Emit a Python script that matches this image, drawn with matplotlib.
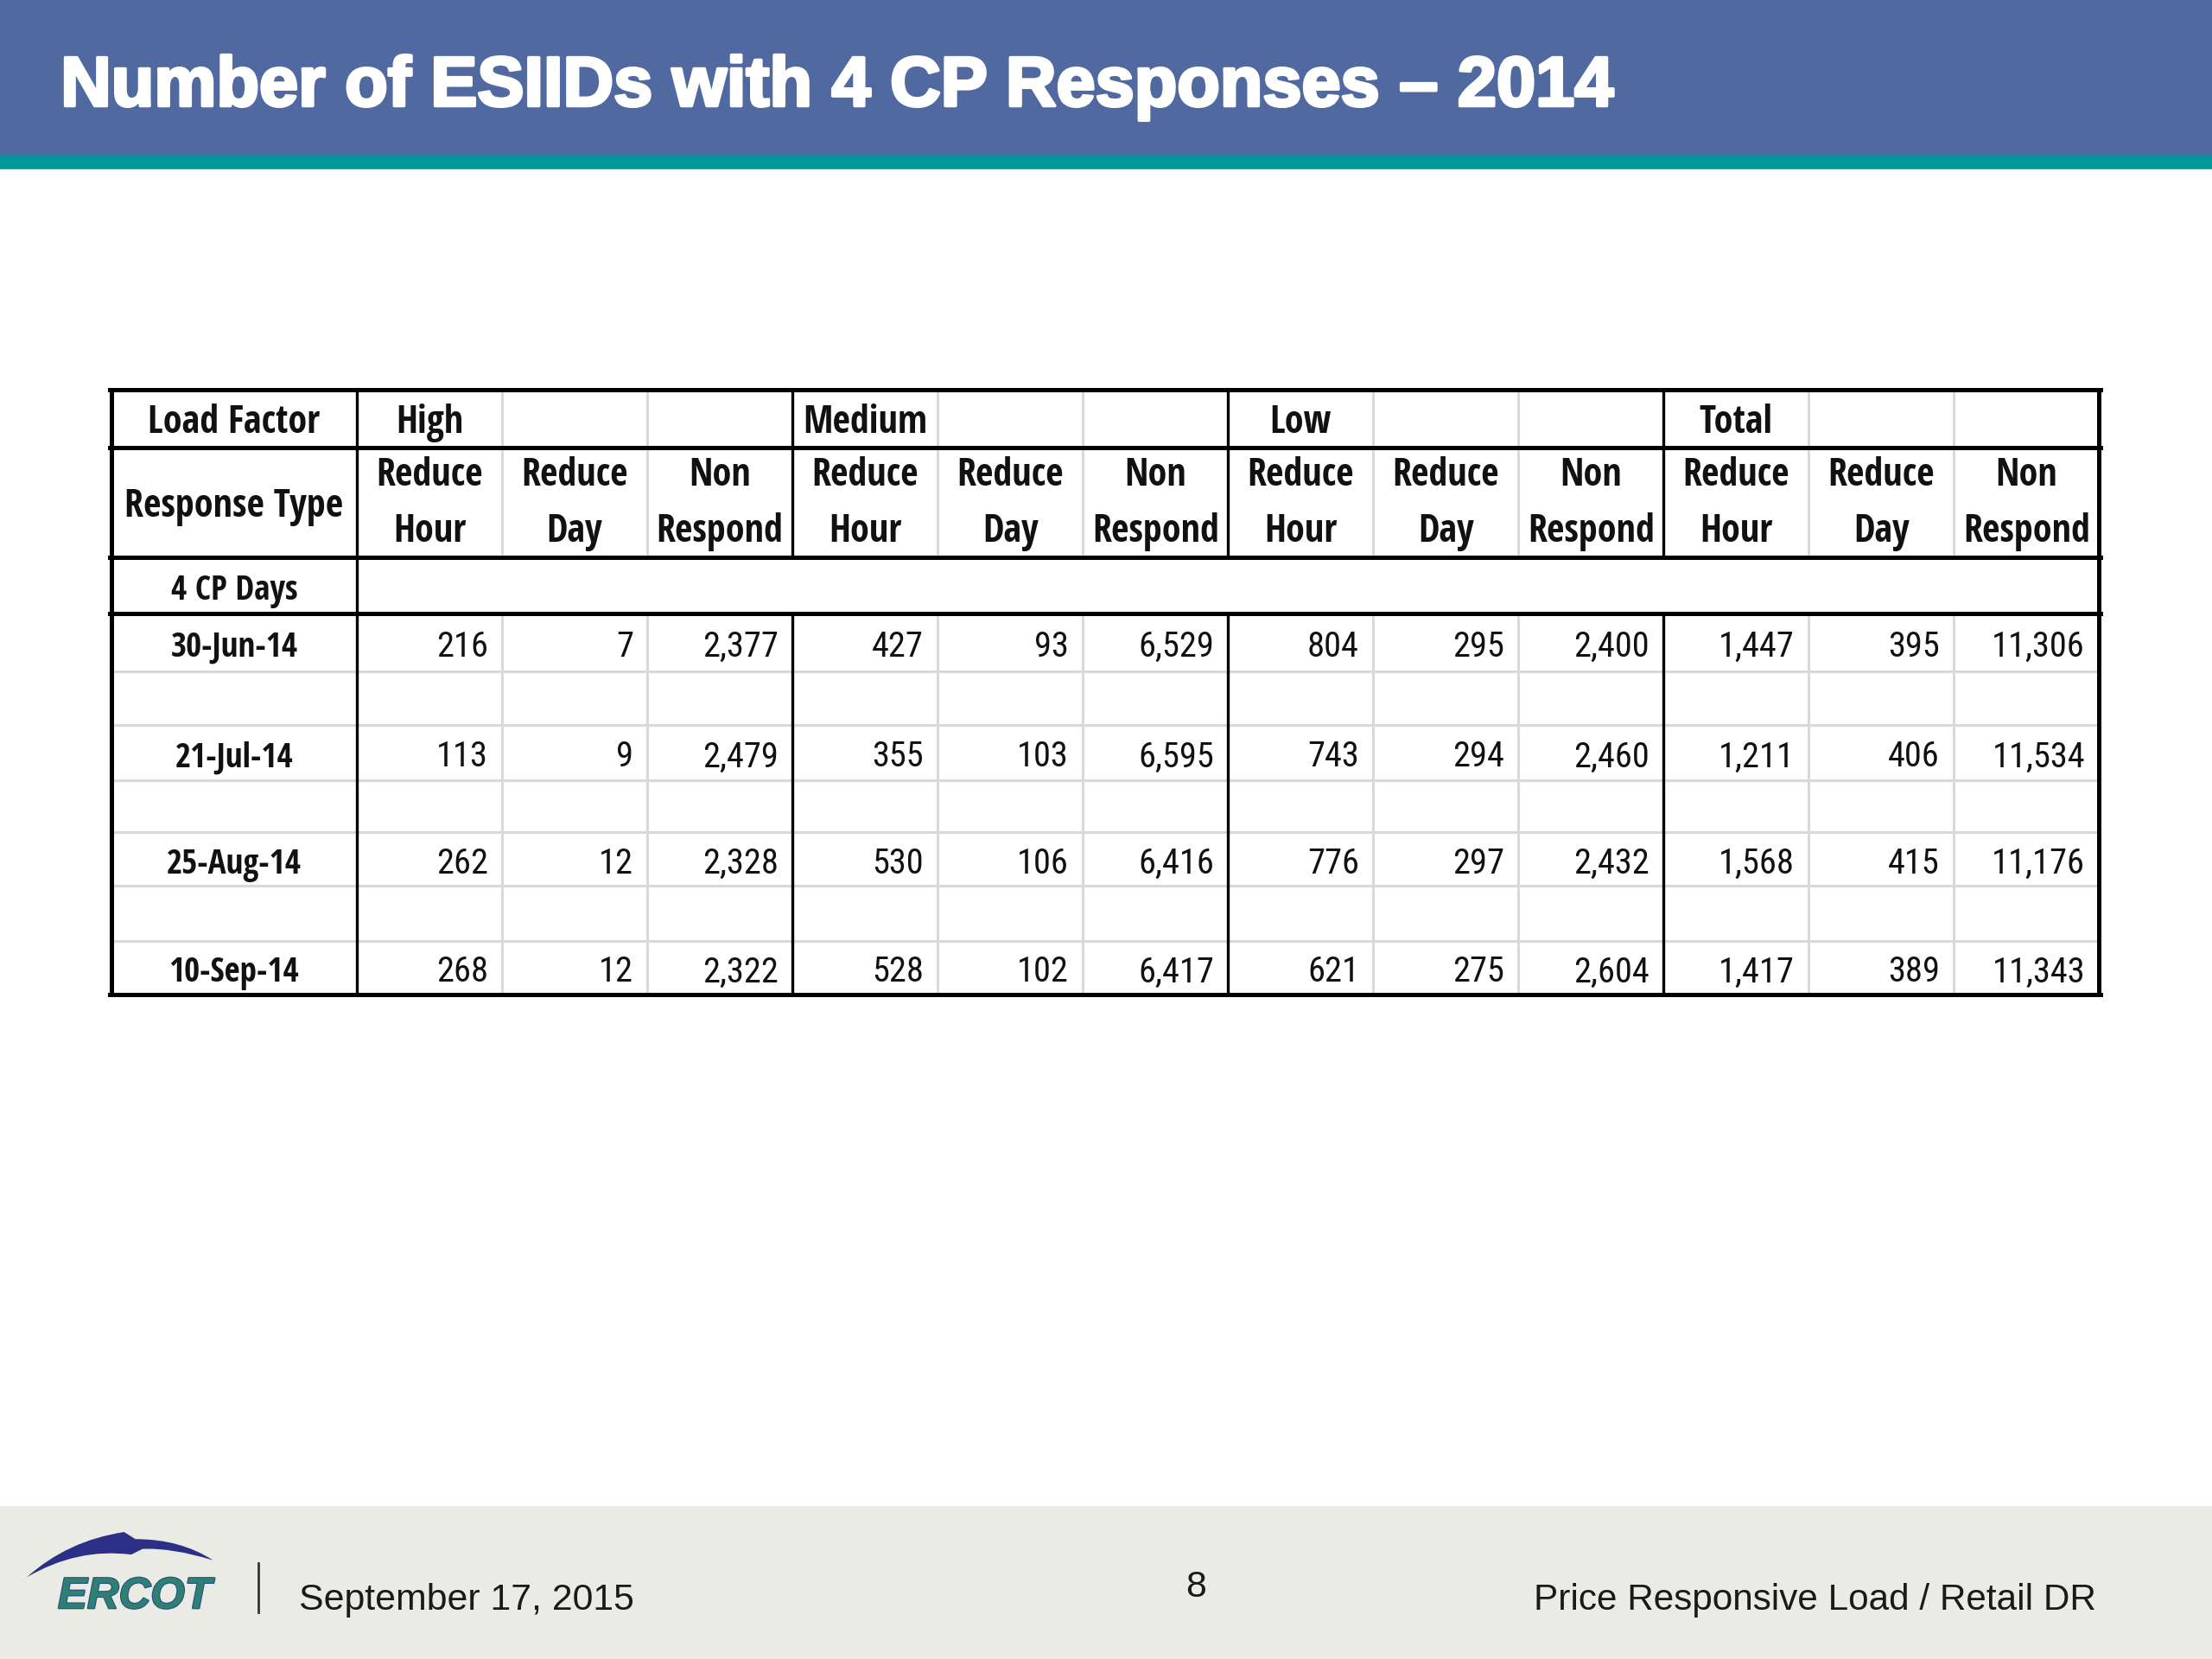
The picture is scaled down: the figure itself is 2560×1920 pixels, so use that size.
import numpy as np
import matplotlib
matplotlib.use("Agg")
import matplotlib.pyplot as plt
import matplotlib.patheffects as pe
from matplotlib import font_manager
from matplotlib.font_manager import FontProperties
from matplotlib.patches import Rectangle, PathPatch
from matplotlib.path import Path
from matplotlib.textpath import TextPath

# slide texts
title = "Number of ESIIDs with 4 CP Responses \u2013 2014"
footer_date = "September 17, 2015"
footer_page = "8"
footer_right = "Price Responsive Load / Retail DR"

# table content
load_factors = ["High", "Medium", "Low", "Total"]
response_top = ["Reduce", "Reduce", "Non"]
response_bottom = ["Hour", "Day", "Respond"]
cp_days = ["30-Jun-14", "21-Jul-14", "25-Aug-14", "10-Sep-14"]

# rows = cp days, columns = reduce hour / reduce day / non respond
high = [[216, 7, 2377], [113, 9, 2479], [262, 12, 2328], [268, 12, 2322]]
medium = [[427, 93, 6529], [355, 103, 6595], [530, 106, 6416], [528, 102, 6417]]
low = [[804, 295, 2400], [743, 294, 2460], [776, 297, 2432], [621, 275, 2604]]
total = [[1447, 395, 11306], [1211, 406, 11534], [1568, 415, 11176], [1417, 389, 11343]]

preferred = ["Liberation Sans Narrow", "Open Sans Condensed", "Noto Sans Condensed",
             "Noto Sans SemiCondensed", "Roboto Condensed", "DejaVu Sans Condensed",
             "Open Sans", "Noto Sans", "Roboto", "DejaVu Sans", "Liberation Sans"]


def weight_num(w):
    if isinstance(w, (int, float)):
        return int(w)
    return font_manager.weight_dict.get(str(w).lower(), 400)


def condensed_file(want):
    # look for a narrow/condensed face close to the wanted weight
    cands = []
    for f in font_manager.fontManager.ttflist:
        if f.style != "normal":
            continue
        name = f.name.lower()
        stretch = str(f.stretch).lower()
        narrow = "narrow" in name or "condensed" in name or "condensed" in stretch
        if not narrow or "extra" in name or "extra" in stretch or "ultra" in stretch:
            continue
        dw = abs(weight_num(f.weight) - want)
        if dw > 100:
            continue
        rank = next((i for i, p in enumerate(preferred) if f.name.startswith(p)), len(preferred))
        cands.append((rank, dw, f.fname))
    if cands:
        cands.sort()
        return cands[0][2]
    return None


bold_file = condensed_file(700)
reg_file = condensed_file(400)
fp_bold = FontProperties(fname=bold_file) if bold_file else FontProperties(family="Lato", weight="bold")
fp_reg = FontProperties(fname=reg_file) if reg_file else FontProperties(family="Lato")

W, H = 1568, 1176
SCALE = 2560 / W          # output px per slide unit
PT = 72 / 200             # points per output px


def width_at10(fp, s):
    p = fp.copy()
    p.set_size(10)
    return TextPath((0, 0), s, prop=p).get_extents().width / PT / SCALE


bold_size = min(16.5, 10 * 120 / width_at10(fp_bold, "Load Factor"))
day_size = min(bold_size, 10 * 89 / width_at10(fp_bold, "30-Jun-14"))
reg_size = min(bold_size, 10 * 63 / width_at10(fp_reg, "11,306"))
fp_day = fp_bold.copy()
fp_day.set_size(day_size)
fp_bold.set_size(bold_size)
fp_reg.set_size(reg_size)

sans = "Liberation Sans"

fig = plt.figure(figsize=(12.8, 9.6), dpi=200)
ax = fig.add_axes([0, 0, 1, 1])
ax.set_xlim(0, W)
ax.set_ylim(H, 0)
ax.axis("off")

# header band
ax.add_patch(Rectangle((0, 0), W, 110, color="#5169A1", zorder=0))
ax.add_patch(Rectangle((0, 110), W, 9, color="#00989B", zorder=0))
ax.text(43, 75, title, color="white", fontsize=29.2, fontweight="bold",
        family=sans, ha="left", va="baseline",
        path_effects=[pe.withStroke(linewidth=1.3, foreground="white")])

# table grid
col_edges = np.concatenate([[79], np.linspace(253, 1488, 13)])
row_edges = [276, 317, 395, 435, 476, 514, 553, 590, 628, 667, 705]
x0, x1 = col_edges[0], col_edges[-1]
gray = "#D9D9D9"
thick = 1.8
mid = 1.2

for y in row_edges[4:-1]:
    ax.plot([x0, x1], [y, y], color=gray, lw=1.1, zorder=1)
for i, x in enumerate(col_edges):
    if i >= 2 and (i - 1) % 3 != 0:
        ax.plot([x, x], [row_edges[0], row_edges[2]], color=gray, lw=1.1, zorder=1)
        ax.plot([x, x], [row_edges[3], row_edges[-1]], color=gray, lw=1.1, zorder=1)

for y in row_edges[:4] + [row_edges[-1]]:
    ax.plot([x0 - 1, x1 + 1], [y, y], color="black", lw=thick, zorder=3,
            solid_capstyle="projecting")
ax.plot([x0, x0], [row_edges[0], row_edges[-1]], color="black", lw=thick, zorder=3)
ax.plot([x1, x1], [row_edges[0], row_edges[-1]], color="black", lw=thick, zorder=3)
ax.plot([col_edges[1]] * 2, [row_edges[0], row_edges[-1]], color="black", lw=mid, zorder=3)
for i in (4, 7, 10):
    x = col_edges[i]
    ax.plot([x, x], [row_edges[0], row_edges[2]], color="black", lw=mid, zorder=3)
    ax.plot([x, x], [row_edges[3], row_edges[-1]], color="black", lw=mid, zorder=3)

hb = dict(fontproperties=fp_bold, color="#111111", va="baseline", ha="center", zorder=4)
hd = dict(hb, fontproperties=fp_day)
c0 = (col_edges[0] + col_edges[1]) / 2
col_mid = (col_edges[1:-1] + col_edges[2:]) / 2

# header rows
ax.text(c0, 307, "Load Factor", **hb)
for g, name in enumerate(load_factors):
    ax.text(col_mid[g * 3], 307, name, **hb)
ax.text(c0, 366, "Response Type", **hb)
for g in range(len(load_factors)):
    for k in range(3):
        xc = col_mid[g * 3 + k]
        ax.text(xc, 344, response_top[k], **hb)
        ax.text(xc, 384, response_bottom[k], **hb)
ax.text(c0, 425, "4 CP Days", **hd)

# data rows
groups = [high, medium, low, total]
for r, day in enumerate(cp_days):
    ri = 3 + 2 * r
    yb = (row_edges[ri] + row_edges[ri + 1]) / 2 + 10
    ax.text(c0, yb, day, **hd)
    for g, grp in enumerate(groups):
        for k, v in enumerate(grp[r]):
            xr = col_edges[2 + g * 3 + k] - 10
            ax.text(xr, yb, f"{v:,}", fontproperties=fp_reg, color="#111111",
                    ha="right", va="baseline", zorder=4)

# footer
ax.add_patch(Rectangle((0, 1068), W, H - 1068, color="#EBEBE5", zorder=0))
swoosh = Path(
    [(19, 1118), (48, 1092), (88, 1086), (96, 1091), (128, 1091), (151, 1106),
     (122, 1097), (101, 1098), (93, 1102), (55, 1097), (19, 1118)],
    [Path.MOVETO, Path.CURVE3, Path.CURVE3, Path.LINETO, Path.CURVE3, Path.CURVE3,
     Path.CURVE3, Path.CURVE3, Path.LINETO, Path.CURVE3, Path.CURVE3])
ax.add_patch(PathPatch(swoosh, facecolor="#2B2F86", edgecolor="none", zorder=2))
ax.text(41, 1140, "ERCOT", family=sans, fontsize=18.3, fontweight="bold",
        fontstyle="italic", color="#2E7F74", ha="left", va="baseline", zorder=3,
        path_effects=[pe.withStroke(linewidth=0.8, foreground="#2B4F80")])
ax.plot([183, 183], [1108, 1143], color="#333333", lw=1.0)
ax.text(212, 1141, footer_date, family=sans, fontsize=15.4, color="#1A1A1A",
        ha="left", va="baseline")
ax.text(848, 1132, footer_page, family=sans, fontsize=15.4, color="#1A1A1A",
        ha="center", va="baseline")
ax.text(1486, 1141, footer_right, family=sans, fontsize=15.2, color="#1A1A1A",
        ha="right", va="baseline")

fig.savefig("out.png", dpi=200)
